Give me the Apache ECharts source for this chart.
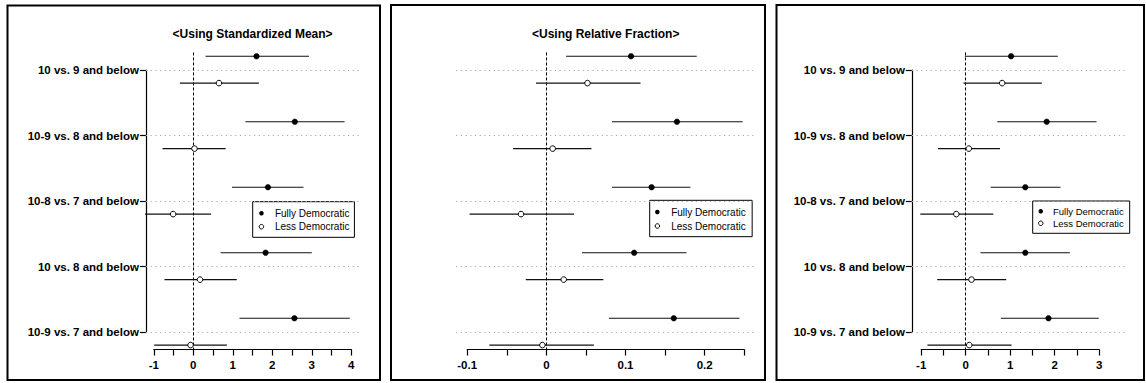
<!DOCTYPE html>
<html>
<head>
<meta charset="utf-8">
<script src="https://cdn.jsdelivr.net/npm/echarts@6/dist/echarts.min.js"></script>
<style>
  html, body { margin: 0; padding: 0; background: #fff; }
  #chart { width: 1146px; height: 383px; }
</style>
</head>
<body>
<div id="chart"></div>
<script>
// ---------------- DATA ----------------
const rowLabels = ['10 vs. 9 and below', '10-9 vs. 8 and below', '10-8 vs. 7 and below', '10 vs. 8 and below', '10-9 vs. 7 and below'];
const groupNames = ['Fully Democratic', 'Less Democratic'];
const panelTitles = ['<Using Standardized Mean>', '<Using Relative Fraction>', ''];

// Panel 1: standardized mean
const fullyMeanEst = [1.60, 2.57, 1.89, 1.83, 2.56];
const fullyMeanLo  = [0.31, 1.32, 0.98, 0.69, 1.17];
const fullyMeanHi  = [2.93, 3.83, 2.79, 3.00, 3.96];
const lessMeanEst  = [0.65, 0.03, -0.51, 0.17, -0.07];
const lessMeanLo   = [-0.34, -0.78, -1.47, -0.73, -0.99];
const lessMeanHi   = [1.66, 0.82, 0.45, 1.10, 0.85];

// Panel 2: relative fraction
const fullyFracEst = [0.107, 0.165, 0.133, 0.111, 0.161];
const fullyFracLo  = [0.025, 0.083, 0.083, 0.045, 0.079];
const fullyFracHi  = [0.190, 0.248, 0.182, 0.177, 0.244];
const lessFracEst  = [0.052, 0.008, -0.032, 0.022, -0.005];
const lessFracLo   = [-0.013, -0.042, -0.097, -0.026, -0.072];
const lessFracHi   = [0.119, 0.057, 0.035, 0.072, 0.060];

// Panel 3
const fullyP3Est = [1.02, 1.82, 1.34, 1.34, 1.86];
const fullyP3Lo  = [-0.02, 0.71, 0.56, 0.33, 0.79];
const fullyP3Hi  = [2.07, 2.94, 2.13, 2.34, 2.99];
const lessP3Est  = [0.82, 0.07, -0.21, 0.13, 0.08];
const lessP3Lo   = [-0.05, -0.62, -1.02, -0.64, -0.86];
const lessP3Hi   = [1.71, 0.77, 0.62, 0.91, 1.03];

// Tick labels per panel
const ticks1 = [-1, 0, 1, 2, 3, 4];
const ticks2 = [-0.1, 0, 0.1, 0.2];
const ticks3 = [-1, 0, 1, 2, 3];

// ---------------- LAYOUT ----------------
const FONT = '"Liberation Sans", Arial, Helvetica, sans-serif';
const ROW_TOP = 70, ROW_STEP = 65.5;       // pixel of row 1 and spacing
const PLOT_ROWS = [0.732, 5.268];          // plot region in row units
const GROUP_OFFSET = [-0.21, 0.2];         // vertical offset of the two groups

const panels = [
  { axisPx: [153.8, 351.3], axisRange: [-1, 4], step: 0.5, ticks: ticks1, plotRange: [-1.2, 4.2], yLabels: true,
    series: [[fullyMeanLo, fullyMeanEst, fullyMeanHi], [lessMeanLo, lessMeanEst, lessMeanHi]],
    legend: { left: 252.7, top: 201.7, size: 10, lh: 12, gap: 1.4, iw: 17, pad: [5.6, 5, 4.6, 6] },
    border: [7.5, 5.5, 372.5, 374.5], title: panelTitles[0] },
  { axisPx: [467.2, 744.2], axisRange: [-0.1, 0.25], step: 0.05, ticks: ticks2, plotRange: [-0.114, 0.264], yLabels: false,
    series: [[fullyFracLo, fullyFracEst, fullyFracHi], [lessFracLo, lessFracEst, lessFracHi]],
    legend: { left: 649.7, top: 200.3, size: 10, lh: 12, gap: 2, iw: 17.7, pad: [5.7, 6.5, 4.7, 4.9] },
    border: [391, 5, 374, 375], title: panelTitles[1] },
  { axisPx: [921.2, 1099.2], axisRange: [-1, 3], step: 0.5, ticks: ticks3, plotRange: [-1.21, 3.58], yLabels: true,
    series: [[fullyP3Lo, fullyP3Est, fullyP3Hi], [lessP3Lo, lessP3Est, lessP3Hi]],
    legend: { left: 1032.7, top: 201, size: 9.5, lh: 11, gap: 1, iw: 14.4, pad: [4.8, 6, 4.5, 5.3] },
    border: [776.5, 5, 367.5, 375], title: panelTitles[2] }
];

const rowPx = r => ROW_TOP + (r - 1) * ROW_STEP;

const grids = [], xAxes = [], yAxes = [], series = [], legends = [], graphics = [];

panels.forEach((p, pi) => {
  const ppu = (p.axisPx[1] - p.axisPx[0]) / (p.axisRange[1] - p.axisRange[0]);
  const plotLeft = p.axisPx[0] + (p.plotRange[0] - p.axisRange[0]) * ppu;
  const plotRight = p.axisPx[0] + (p.plotRange[1] - p.axisRange[0]) * ppu;
  const plotTop = rowPx(PLOT_ROWS[0]);
  const plotBottom = rowPx(PLOT_ROWS[1]);

  // Axis grid (visible axes spanning tick range / rows)
  const ag = grids.length;
  grids.push({ left: p.axisPx[0], top: rowPx(1), width: p.axisPx[1] - p.axisPx[0], height: rowPx(5) - rowPx(1), containLabel: false });
  xAxes.push({
    type: 'value', gridIndex: ag, min: p.axisRange[0], max: p.axisRange[1], interval: p.step,
    offset: plotBottom - rowPx(5),
    axisLine: { show: true, onZero: false, lineStyle: { color: '#000', width: 1.2 } },
    axisTick: { show: true, length: 6, inside: false, lineStyle: { color: '#000', width: 1.2 } },
    axisLabel: {
      show: true, margin: 9, color: '#000', fontFamily: FONT, fontWeight: 'bold', fontSize: 11.5,
      formatter: v => p.ticks.some(t => Math.abs(t - v) < 1e-9) ? String(+v.toFixed(4)) : ''
    },
    splitLine: { show: false }
  });
  yAxes.push({
    type: 'value', gridIndex: ag, min: 1, max: 5, interval: 1, inverse: true,
    show: p.yLabels,
    offset: p.axisPx[0] - plotLeft,
    axisLine: { show: true, onZero: false, lineStyle: { color: '#000', width: 1.2 } },
    axisTick: { show: true, length: 6, lineStyle: { color: '#000', width: 1.2 } },
    axisLabel: {
      show: true, margin: 7, color: '#000', fontFamily: FONT, fontWeight: 'bold', fontSize: 11.5,
      formatter: v => rowLabels[Math.round(v) - 1] || ''
    },
    splitLine: { show: false }
  });

  // Data grid (plot region)
  const dg = grids.length;
  grids.push({ left: plotLeft, top: plotTop, width: plotRight - plotLeft, height: plotBottom - plotTop, containLabel: false });
  const dx = xAxes.length;
  xAxes.push({ type: 'value', gridIndex: dg, min: p.plotRange[0], max: p.plotRange[1], show: false, splitLine: { show: false } });
  const dy = yAxes.length;
  yAxes.push({ type: 'value', gridIndex: dg, min: PLOT_ROWS[0], max: PLOT_ROWS[1], inverse: true, show: false, splitLine: { show: false } });

  p.series.forEach((s, gi) => {
    const [lo, est, hi] = s;
    const data = est.map((e, i) => [i + 1 + GROUP_OFFSET[gi], lo[i], e, hi[i]]);
    const filled = gi === 0;
    const ser = {
      type: 'custom', name: groupNames[gi], xAxisIndex: dx, yAxisIndex: dy, clip: true,
      encode: { x: [1, 2, 3], y: 0 },
      data: data,
      z: 5,
      renderItem: (params, api) => {
        const y = api.value(0);
        const a = api.coord([api.value(1), y]);
        const b = api.coord([api.value(3), y]);
        const c = api.coord([api.value(2), y]);
        return {
          type: 'group',
          children: [
            { type: 'line', shape: { x1: a[0], y1: a[1], x2: b[0], y2: b[1] }, style: { stroke: '#111', lineWidth: 1.2 } },
            { type: 'circle', shape: { cx: c[0], cy: c[1], r: 2.8 },
              style: filled ? { fill: '#000', stroke: '#000', lineWidth: 0.5 } : { fill: '#fff', stroke: '#000', lineWidth: 1 } }
          ]
        };
      }
    };
    if (gi === 0) {
      // reference lines: dotted row guides and dashed zero line
      ser.markLine = {
        silent: true, symbol: 'none', animation: false,
        label: { show: false },
        data: [1, 2, 3, 4, 5].map(r => ({ yAxis: r, lineStyle: { type: [1.2, 3.5], color: '#a8a8a8', width: 1 } }))
          .concat([{ xAxis: 0, lineStyle: { type: [3, 2], color: '#000', width: 1 } }])
      };
    }
    series.push(ser);
  });

  const L = p.legend;
  legends.push({
    show: true, orient: 'vertical', left: L.left, top: L.top,
    padding: L.pad, itemGap: L.gap, itemWidth: L.iw, itemHeight: 4.5,
    borderColor: '#000', borderWidth: 1, backgroundColor: '#fff', borderRadius: 0,
    selectedMode: false, symbolKeepAspect: true,
    textStyle: { fontFamily: FONT, fontSize: L.size, color: '#000', lineHeight: L.lh },
    data: [
      { name: groupNames[0], icon: 'circle', itemStyle: { color: '#000', borderWidth: 0 } },
      { name: groupNames[1], icon: 'circle', itemStyle: { color: '#fff', borderColor: '#000', borderWidth: 1 } }
    ]
  });

  if (p.title) {
    graphics.push({
      type: 'text', x: (plotLeft + plotRight) / 2, y: 34,
      style: { text: p.title, align: 'center', verticalAlign: 'middle', font: 'bold 12px ' + FONT, fill: '#000' }
    });
  }
  const bd = p.border;
  graphics.push({
    type: 'rect', shape: { x: bd[0], y: bd[1], width: bd[2], height: bd[3] },
    style: { fill: 'none', stroke: '#000', lineWidth: 2 }, silent: true
  });
});

const chart = echarts.init(document.getElementById('chart'), null, { renderer: 'svg' });
chart.setOption({
  animation: false,
  backgroundColor: '#fff',
  grid: grids,
  xAxis: xAxes,
  yAxis: yAxes,
  legend: legends,
  series: series,
  graphic: graphics
});
</script>
</body>
</html>
